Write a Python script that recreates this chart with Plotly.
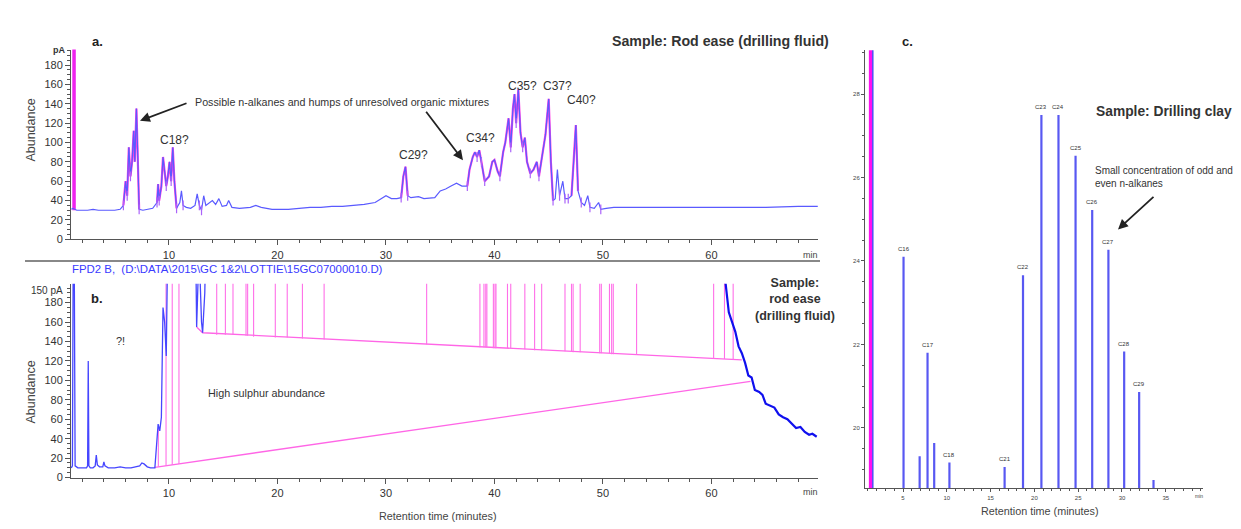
import plotly.graph_objects as go

OFF = 8  # page body margin in the browser
W, H = 1241 - OFF, 529 - OFF

# ---------------- Panel a: FID chromatogram, rod ease ----------------
a_time = [1.0, 1.15, 1.5, 2.0, 2.5, 3.0, 3.5, 4.0, 4.5, 5.0,
          5.5, 5.8, 6.0, 6.15, 6.3, 6.45, 6.6, 6.75, 6.85, 7.0,
          7.1, 7.25, 7.6, 8.0, 8.5, 8.9, 9.0, 9.1, 9.3, 9.45,
          9.6, 9.75, 9.9, 10.05, 10.2, 10.35, 10.5, 10.7, 11.0, 11.15,
          11.3, 11.6, 12.0, 12.4, 12.6, 12.8, 13.0, 13.2, 13.4, 13.7,
          14.0, 14.3, 14.6, 14.9, 15.3, 15.5, 15.8, 16.5, 17.5, 18.0,
          18.5, 19.5, 21.0, 22.0, 23.0, 24.0, 25.0, 26.0, 27.0, 28.0,
          29.0, 30.0, 30.5, 31.0, 31.4, 31.6, 31.8, 32.0, 32.3, 33.0,
          33.5, 34.5, 35.0, 35.5, 36.0, 36.5, 37.0, 37.5, 37.7, 38.0,
          38.2, 38.4, 38.6, 38.8, 39.1, 39.5, 39.8, 40.0, 40.3, 40.5,
          40.8, 41.0, 41.3, 41.5, 41.7, 41.85, 42.0, 42.2, 42.4, 42.6,
          42.8, 43.0, 43.3, 43.6, 43.9, 44.1, 44.4, 44.7, 45.0, 45.2,
          45.4, 45.6, 45.8, 46.0, 46.3, 46.5, 46.8, 47.1, 47.3, 47.5,
          47.7, 48.0, 48.3, 48.6, 48.8, 49.2, 49.6, 49.8, 50.3, 51.0,
          52.0, 55.0, 60.0, 65.0, 68.0, 69.8]
a_abund = [31, 32, 30, 30, 30, 31, 30, 30, 30, 30,
           31, 35, 60, 45, 95, 65, 80, 112, 80, 135,
           95, 31, 30, 31, 32, 38, 57, 40, 55, 85,
           70, 55, 65, 80, 60, 95, 60, 32, 38, 50,
           35, 33, 32, 35, 47, 35, 30, 45, 35, 38,
           40, 36, 42, 34, 35, 40, 33, 32, 33, 35,
           33, 31, 31, 32, 33, 33, 34, 34, 35, 36,
           38, 45, 42, 42, 43, 65, 75, 45, 43, 44,
           42, 43, 50, 52, 55, 58, 55, 55, 72, 85,
           90, 85, 92, 80, 60, 65, 80, 82, 70, 65,
           90, 100, 125, 95, 135, 150, 120, 155, 110, 95,
           105, 80, 68, 72, 80, 65, 85, 108, 145, 80,
           40, 42, 72, 45, 60, 42, 42, 45, 80, 118,
           50, 38, 35, 45, 33, 32, 38, 31, 32, 33,
           33, 33, 33, 33, 34, 34]
a_peak_windows = [(5.8, 7.25), (8.9, 10.7), (31.4, 32.0), (37.5, 45.4), (47.1, 47.7)]
a_mark_times = [5.8, 6.15, 6.45, 7.25, 8.9, 9.1, 9.75, 10.2, 10.7, 11.3, 12.8, 13.0,
                31.4, 32.0, 37.5, 38.4, 38.8, 39.1, 40.5, 41.5, 42.0, 42.6, 43.3,
                44.1, 45.4, 46.0, 46.5, 46.8, 48.0, 48.8, 49.8]
a_solvent_time = [1.25, 1.25]
a_solvent_abund = [30, 250]
a_peak_labels = ["C18?", "C29?", "C34?", "C35?", "C37?", "C40?"]

# ---------------- Panel b: FPD (sulphur) chromatogram ----------------
b_time = [1.0, 1.1, 1.18, 1.26, 1.35, 1.6, 2.0, 2.4, 2.5, 2.56,
          2.62, 2.75, 3.0, 3.2, 3.3, 3.4, 3.6, 3.9, 4.0, 4.1,
          4.4, 5.0, 5.5, 6.0, 6.5, 7.0, 7.3, 7.5, 7.7, 8.0,
          8.3, 8.7, 8.85, 9.0, 9.15, 9.3, 9.45, 9.6, 9.75, 9.85,
          9.95, 12.4, 12.55, 12.7, 12.85, 13.0, 13.1, 13.3, 13.5, 61.0,
          61.3, 61.6, 61.9, 62.2, 62.5, 62.8, 63.1, 63.4, 63.7, 64.0,
          64.4, 64.7, 65.0, 65.4, 65.8, 66.2, 66.6, 67.0, 67.4, 67.8,
          68.2, 68.6, 69.0, 69.3, 69.7]
b_abund = [10, 12, 250, 250, 12, 10, 10, 10, 12, 120,
           12, 10, 10, 12, 23, 13, 11, 11, 16, 12,
           10, 10, 11, 10, 10, 11, 12, 15, 14, 11,
           10, 10, 30, 55, 48, 62, 175, 160, 125, 250,
           300, 300, 155, 210, 210, 160, 149, 190, 300, 300,
           200, 170, 160, 150, 135, 128, 118, 105, 103, 90,
           88, 85, 76, 74, 72, 65, 62, 60, 55, 51,
           52, 47, 44, 45, 42]
b_base_lower_t = [8.7, 63.6]
b_base_lower_v = [10.5, 99]
b_base_upper_t = [12.55, 13.1, 62.8]
b_base_upper_v = [155, 149, 121]
b_drop_t = [9.02, 9.73, 10.3, 10.92, 14.4, 15.2, 15.9, 17.1, 17.25, 17.8,
            19.8, 20.9, 22.3, 24.3, 33.75, 38.66, 39.03, 39.2, 39.3, 39.9,
            40.05, 40.14, 41.2, 41.5, 42.8, 43.7, 44.35, 46.5, 47.1, 47.25,
            47.9, 49.7, 49.85, 50.6, 50.8, 50.95, 53.1, 60.2, 61.2, 62.0]
b_drop_bottom = [11, 12, 13, 14, 147, 147, 147, 146, 146, 145,
                 144, 144, 143, 142, 137, 134, 134, 134, 134, 133,
                 133, 133, 133, 133, 132, 131, 131, 130, 130, 129,
                 129, 128, 128, 128, 127, 127, 126, 122, 122, 121]
b_drop_top = [50, 250, 250, 250, 250, 250, 250, 250, 250, 250,
              250, 250, 250, 250, 250, 250, 250, 250, 250, 250,
              250, 250, 250, 250, 250, 250, 250, 250, 250, 250,
              250, 250, 250, 250, 250, 250, 250, 250, 250, 250]

# ---------------- Panel c: drilling clay ----------------
c_time = [5.06, 6.9, 7.8, 8.56, 10.3, 16.6, 18.7, 20.8, 22.75, 24.7,
          26.6, 28.45, 30.25, 31.96, 33.6]
c_height = [24.1, 19.32, 21.8, 19.64, 19.17, 19.06, 23.66, 27.5, 27.5, 26.52,
            25.22, 24.27, 21.83, 20.86, 18.75]
c_label = ["C16", "", "C17", "", "C18", "C21", "C22", "C23", "C24", "C25",
           "C26", "C27", "C28", "C29", ""]
c_solvent_time = [1.3, 1.3]
c_solvent_blue_time = [1.55, 1.55]
c_solvent_abund = [18.0, 40.0]

assert len(a_time) == len(a_abund)
assert len(b_time) == len(b_abund)
assert len(b_drop_t) == len(b_drop_bottom) == len(b_drop_top)
assert len(c_time) == len(c_height) == len(c_label)

FONT = "Arial, Liberation Sans, sans-serif"
BLUE_A = "#5a5aff"
MAG = "#ff3ee4"


def px(x):
    return (x - OFF) / W


def py(y):
    return 1 - (y - OFF) / H


fig = go.Figure()

# ---- panel a traces ----
mx, my = [], []
for lo, hi in a_peak_windows:
    for t, v in zip(a_time, a_abund):
        if lo <= t <= hi:
            mx.append(t)
            my.append(v)
    mx.append(None)
    my.append(None)
fig.add_trace(go.Scatter(x=mx, y=my, mode="lines", line=dict(color=MAG, width=2.2),
                         xaxis="x", yaxis="y", hoverinfo="skip"))
fig.add_trace(go.Scatter(x=a_solvent_time, y=a_solvent_abund, mode="lines",
                         line=dict(color="#ee22ee", width=3.5), xaxis="x", yaxis="y"))
fig.add_trace(go.Scatter(x=a_time, y=a_abund, mode="lines", line=dict(color=BLUE_A, width=1.2),
                         xaxis="x", yaxis="y"))
kx = [t for t in a_time if t in a_mark_times]
ky = [v for t, v in zip(a_time, a_abund) if t in a_mark_times]
fig.add_trace(go.Scatter(x=kx, y=ky, mode="markers",
                         marker=dict(symbol="line-ns-open", size=7, line=dict(color="#111", width=1.2)),
                         xaxis="x", yaxis="y"))

# ---- panel b traces ----
fig.add_trace(go.Scatter(x=b_base_lower_t, y=b_base_lower_v, mode="lines",
                         line=dict(color="#ff66e6", width=1.3), xaxis="x2", yaxis="y2"))
fig.add_trace(go.Scatter(x=b_base_upper_t, y=b_base_upper_v, mode="lines",
                         line=dict(color="#ff66e6", width=1.3), xaxis="x2", yaxis="y2"))
dx, dy = [], []
for t, b0, b1 in zip(b_drop_t, b_drop_bottom, b_drop_top):
    dx += [t, t, None]
    dy += [b0, b1, None]
fig.add_trace(go.Scatter(x=dx, y=dy, mode="lines", line=dict(color="#ff6fe8", width=1.1),
                         xaxis="x2", yaxis="y2"))
early_t = [t for t in b_time if t < 30]
early_v = [v for t, v in zip(b_time, b_abund) if t < 30]
late_t = [t for t in b_time if t > 30]
late_v = [v for t, v in zip(b_time, b_abund) if t > 30]
fig.add_trace(go.Scatter(x=early_t, y=early_v, mode="lines", line=dict(color="#4646ff", width=1.3),
                         xaxis="x2", yaxis="y2"))
fig.add_trace(go.Scatter(x=late_t, y=late_v, mode="lines", line=dict(color="#1010ee", width=2.2),
                         xaxis="x2", yaxis="y2"))

# ---- panel c traces ----
fig.add_trace(go.Scatter(x=c_solvent_time, y=c_solvent_abund, mode="lines",
                         line=dict(color="#ff10f0", width=3.5), xaxis="x3", yaxis="y3"))
fig.add_trace(go.Scatter(x=c_solvent_blue_time, y=c_solvent_abund, mode="lines",
                         line=dict(color="#4c4cf5", width=1.5), xaxis="x3", yaxis="y3"))
cx, cy = [], []
for t, h in zip(c_time, c_height):
    cx += [t, t, None]
    cy += [18.0, h, None]
fig.add_trace(go.Scatter(x=cx, y=cy, mode="lines", line=dict(color="#5858f2", width=2.2),
                         xaxis="x3", yaxis="y3"))

# ---- axes ----
ax_common = dict(showline=True, linecolor="#555", linewidth=1, ticks="outside", ticklen=5,
                 tickcolor="#555", showgrid=False, zeroline=False,
                 tickfont=dict(size=11, color="#333", family=FONT))
minor_x = dict(dtick=2, tick0=0, ticks="outside", ticklen=3, tickcolor="#555")
minor_y = dict(dtick=5, tick0=0, ticks="outside", ticklen=3, tickcolor="#555")
xdom = [px(71), px(818)]
xr = [0.97, 69.82]
xt = [10, 20, 30, 40, 50, 60]
yt = [0, 20, 40, 60, 80, 100, 120, 140, 160, 180]

fig.update_layout(
    width=W, height=H, margin=dict(l=0, r=0, t=0, b=0),
    paper_bgcolor="white", plot_bgcolor="white", showlegend=False,
    font=dict(family=FONT, color="#333"),
    xaxis=dict(domain=xdom, range=xr, tickvals=xt, minor=minor_x, anchor="y", **ax_common),
    yaxis=dict(domain=[py(242), py(50)], range=[0, 196], tickvals=yt, minor=minor_y,
               anchor="x", **ax_common),
    xaxis2=dict(domain=xdom, range=xr, tickvals=xt, minor=minor_x, anchor="y2", **ax_common),
    yaxis2=dict(domain=[py(483), py(287)], range=[0, 199.4], tickvals=yt, minor=minor_y,
                anchor="x2", **ax_common),
    xaxis3=dict(domain=[px(865), px(1203)], range=[0.66, 39.25], tickvals=[5, 10, 15, 20, 25, 30, 35],
                minor=dict(dtick=1, tick0=0, ticks="outside", ticklen=2, tickcolor="#555"),
                anchor="y3", showline=True, linecolor="#555", ticks="outside", ticklen=3,
                tickcolor="#555", showgrid=False, zeroline=False,
                tickfont=dict(size=6, color="#444", family=FONT)),
    yaxis3=dict(domain=[py(494), py(50.7)], range=[18.55, 29.05], tickvals=[20, 22, 24, 26, 28],
                minor=dict(dtick=0.5, tick0=0, ticks="outside", ticklen=2, tickcolor="#555"),
                anchor="x3", showline=True, linecolor="#555", ticks="outside", ticklen=3,
                tickcolor="#555", showgrid=False, zeroline=False,
                tickfont=dict(size=6, color="#444", family=FONT)),
)

# ---- annotations ----
ann = []


def text(x, y, s, size=11, bold=False, color="#333", xanchor="center", angle=0):
    ann.append(dict(x=px(x), y=py(y), xref="paper", yref="paper", text=("<b>%s</b>" % s) if bold else s,
                    showarrow=False, xanchor=xanchor, yanchor="middle", textangle=angle,
                    font=dict(size=size, color=color, family=FONT)))


def arrow(hx, hy, tx, ty, width=1.8):
    ann.append(dict(x=px(hx), y=py(hy), xref="paper", yref="paper", text="", showarrow=True,
                    ax=tx - hx, ay=ty - hy, arrowhead=2, arrowsize=1.1, arrowwidth=width,
                    arrowcolor="#222"))


# panel a
text(97, 42, "a.", 13, True, "#222")
text(720, 41, "Sample: Rod ease (drilling fluid)", 14.2, True, "#333")
text(193, 103, "Possible n-alkanes and humps of unresolved organic mixtures", 10.7, False, "#333", "left")
arrow(140, 122, 188, 104)
arrow(463, 162, 425, 112)
a_label_xy = [(174, 142), (413, 157), (480, 140), (522, 87), (557, 87), (581, 101)]
for s, (x, y) in zip(a_peak_labels, a_label_xy):
    text(x, y, s, 12, False, "#333")
text(31, 132, "Abundance", 12.5, False, "#444", angle=-90)
text(59, 50, "pA", 9, True, "#333")
text(810, 258, "min", 9, False, "#444")

# panel b
text(227, 272, "FPD2 B,  (D:\\DATA\\2015\\GC 1&amp;2\\LOTTIE\\15GC07000010.D)", 11.4, False, "#3a3aff")
text(65, 294, "150 pA", 10, False, "#333", "right")
text(97, 302, "b.", 13, True, "#222")
text(120, 345, "?!", 11, False, "#333")
text(266, 397, "High sulphur abundance", 10.8, False, "#333")
ann.append(dict(x=px(795), y=py(303), xref="paper", yref="paper",
                text="<b>Sample:<br>rod ease<br>(drilling fluid)</b>", showarrow=False,
                xanchor="center", yanchor="middle", align="center",
                font=dict(size=12.5, color="#333", family=FONT)))
text(31, 397, "Abundance", 12.5, False, "#444", angle=-90)
text(438, 522, "Retention time (minutes)", 10.8, False, "#444")
text(810, 498, "min", 9, False, "#444")

# panel c
text(907, 42, "c.", 13, True, "#222")
text(1164, 113, "Sample: Drilling clay", 13.8, True, "#333")
ann.append(dict(x=px(1093), y=py(179), xref="paper", yref="paper",
                text="Small concentration of odd and<br>even n-alkanes", showarrow=False,
                xanchor="left", yanchor="middle", align="left",
                font=dict(size=10, color="#333", family=FONT)))
arrow(1118, 232, 1155, 198)
text(1040, 517, "Retention time (minutes)", 10.8, False, "#444")
text(1199, 502, "min", 5, False, "#444")
for t, h, s in zip(c_time, c_height, c_label):
    if s:
        ann.append(dict(x=t, y=h, xref="x3", yref="y3", text=s, showarrow=False, yshift=8,
                        font=dict(size=6, color="#333", family=FONT)))

fig.update_layout(annotations=ann,
                  shapes=[dict(type="line", xref="paper", yref="paper", x0=px(25), x1=px(820),
                               y0=py(264), y1=py(264), line=dict(color="#888", width=2))])

fig.write_html("out.html")
